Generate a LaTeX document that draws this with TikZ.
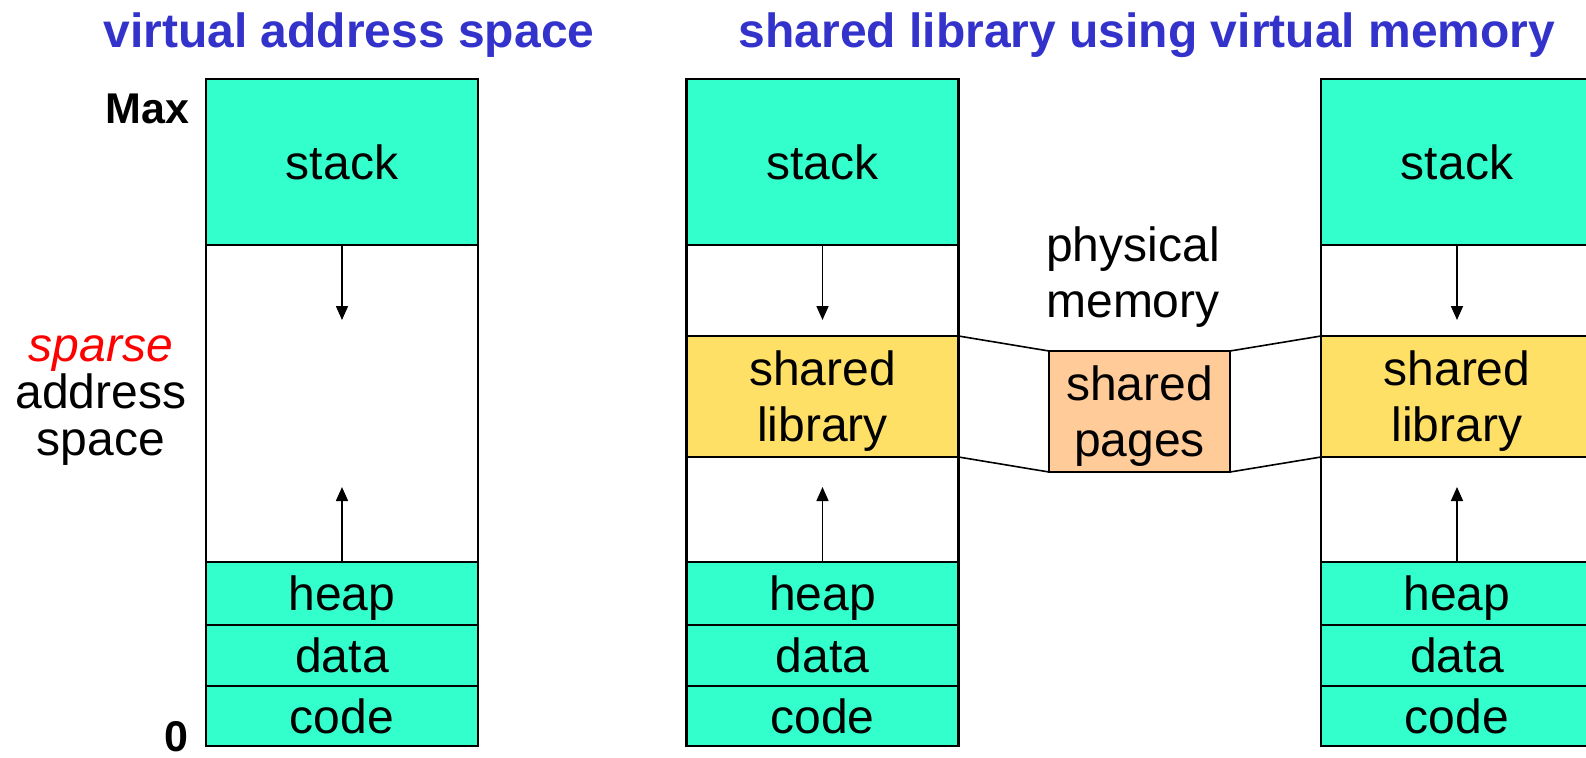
\documentclass[tikz,border=0pt]{standalone}
\usepackage{fontspec}
\setmainfont{Liberation Sans}
\usepackage{xcolor}
\usetikzlibrary{arrows.meta, positioning}

\definecolor{segteal}{HTML}{33FFCC}
\definecolor{libyellow}{HTML}{FFE066}
\definecolor{pageorange}{HTML}{FFCC99}
\definecolor{titleblue}{HTML}{3333CC}

\tikzset{
    seg/.style={draw, line width=1.2pt, outer sep=0pt, inner sep=0pt, text depth=0pt,
        minimum width=136pt, align=center, font=\fontsize{24}{28}\selectfont},
    code seg/.style={seg, fill=segteal},
    lib seg/.style={seg, fill=libyellow},
    gap seg/.style={seg, fill=white},
    label txt/.style={align=center, inner sep=0pt, font=\fontsize{24}{28}\selectfont},
    title txt/.style={inner sep=0pt, anchor=base, text=titleblue, font=\fontsize{24}{28}\selectfont\bfseries}
}

\begin{document}
\begin{tikzpicture}[x=0.5pt, y=-0.5pt, >={Triangle[length=7pt,width=6pt]}, node distance=0pt]
    \clip (0,0) rectangle (1586,757);

    % Titles
    \node[title txt] (title1) at (349,47) {virtual address space};
    \node[title txt] (title2) at (1147,47) {shared library using virtual memory};

    % Virtual address space
    \node[code seg, minimum height=83pt, anchor=north] (stackA) at (342,79) {stack};
    \node[gap seg, minimum height=158.5pt, below=of stackA] (gapA) {};
    \node[code seg, minimum height=31.5pt, below=of gapA] (heapA) {heap};
    \node[code seg, minimum height=30.5pt, below=of heapA] (dataA) {data};
    \node[code seg, minimum height=30pt, below=of dataA] (codeA) {code};

    % Side labels
    \node[label txt, anchor=east, font=\fontsize{21.5}{26}\selectfont\bfseries] (max) at (190,109) {Max};
    \node[label txt, anchor=base, font=\fontsize{21.5}{26}\selectfont\bfseries] (zero) at (176,751) {0};
    \node[label txt, font=\fontsize{24}{23.5}\selectfont] (sparse) at (101,401)
        {\textcolor{red}{\itshape sparse}\\address\\space};

    % Two processes sharing a library
    \foreach \c/\x in {B/822.5, C/1457} {
        \node[code seg, minimum height=83pt, anchor=north] (stack\c) at (\x,79) {stack};
        \node[gap seg, minimum height=45.5pt, below=of stack\c] (gap\c) {};
        \node[lib seg, minimum height=60.5pt, below=of gap\c] (lib\c) {shared\\library};
        \node[gap seg, minimum height=52.5pt, below=of lib\c] (low\c) {};
        \node[code seg, minimum height=31.5pt, below=of low\c] (heap\c) {heap};
        \node[code seg, minimum height=30.5pt, below=of heap\c] (data\c) {data};
        \node[code seg, minimum height=30pt, below=of data\c] (code\c) {code};
    }

    % Physical memory
    \node[label txt] (phys) at (1133,277) {physical\\memory};
    \node[seg, fill=pageorange, minimum width=90.5pt, minimum height=60.5pt] (pages) at (1139.5,411.5) {shared\\pages};

    \draw[line width=0.8pt] (libB.north east) -- (pages.north west);
    \draw[line width=0.8pt] (libB.south east) -- (pages.south west);
    \draw[line width=0.8pt] (pages.north east) -- (libC.north west);
    \draw[line width=0.8pt] (pages.south east) -- (libC.south west);

    % Growth arrows
    \foreach \c/\x in {A/342, B/822.5, C/1457} {
        \coordinate (dn\c) at (\x,320);
        \coordinate (up\c) at (\x,487);
        \draw[->, line width=0.8pt] (stack\c.south) -- (dn\c);
        \draw[->, line width=0.8pt] (heap\c.north) -- (up\c);
    }

\end{tikzpicture}
\end{document}
